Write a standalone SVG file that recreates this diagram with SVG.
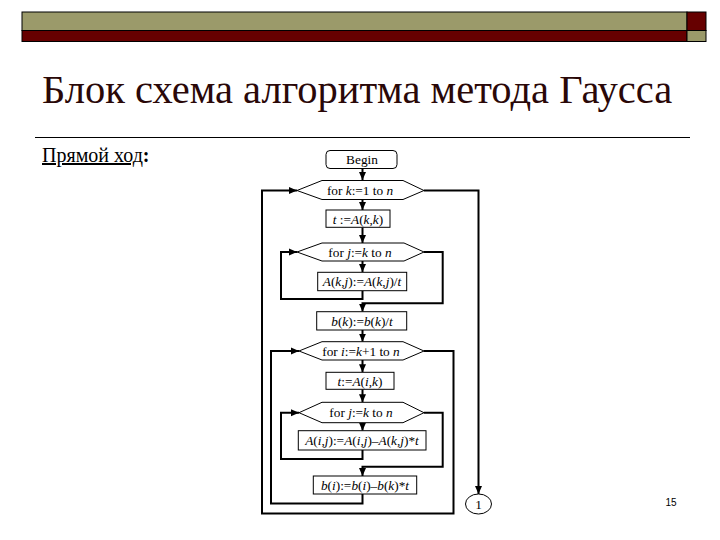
<svg xmlns="http://www.w3.org/2000/svg" width="720" height="540" viewBox="0 0 720 540">
<style>
.box{fill:#fff;stroke:#000;stroke-width:1}
.c{fill:none;stroke:#000;stroke-width:2;stroke-linejoin:miter}
.serif{font-family:'Liberation Serif','Times New Roman',Times,Tinos,'Noto Serif','DejaVu Serif',FreeSerif,serif}
.t{font-family:'Liberation Serif','Times New Roman',Times,Tinos,'Noto Serif','DejaVu Serif',FreeSerif,serif;font-size:13.3px;fill:#000;text-anchor:middle}
.i{font-style:italic}
</style>
<defs>
<marker id="ah" markerUnits="userSpaceOnUse" markerWidth="9" markerHeight="8" refX="8" refY="4" orient="auto">
<path d="M0,0.5 L8,4 L0,7.5 Z" fill="#000"/>
</marker>
</defs>
<rect width="720" height="540" fill="#fff"/>
<g id="topbar" stroke="#000" stroke-width="1">
<rect x="22" y="12" width="665" height="18.5" fill="#9b9a6a"/>
<rect x="687" y="12" width="19" height="18.5" fill="#660000"/>
<rect x="22" y="30.5" width="665" height="11" fill="#660000"/>
<rect x="687" y="30.5" width="19" height="11" fill="#9b9a6a"/>
</g>
<text id="title" class="serif" x="42" y="103" font-size="40.5" fill="#2a0808">Блок схема алгоритма метода Гаусса</text>
<line x1="35" y1="137.5" x2="690" y2="137.5" stroke="#000" stroke-width="1"/>
<text id="subtitle" class="serif" x="42" y="162" font-size="20" fill="#000"><tspan text-decoration="underline">Прямой ход</tspan><tspan font-weight="bold">:</tspan></text>
<g id="connectors">
<path class="c" d="M362.5,168.5 V180" marker-end="url(#ah)"/>
<path class="c" d="M362.5,199.5 V210" marker-end="url(#ah)"/>
<path class="c" d="M362.5,227.5 V243" marker-end="url(#ah)"/>
<path class="c" d="M362.5,261 V272" marker-end="url(#ah)"/>
<path class="c" d="M362.5,290.7 V299 H281 V252 H297" marker-end="url(#ah)"/>
<path class="c" d="M424,252 H442.7 V303.3 H362.5 V311.7" marker-end="url(#ah)"/>
<path class="c" d="M362.5,330 V341.7" marker-end="url(#ah)"/>
<path class="c" d="M362.5,360 V372.3" marker-end="url(#ah)"/>
<path class="c" d="M362.5,389.3 V402.3" marker-end="url(#ah)"/>
<path class="c" d="M362.5,422.7 V430.7" marker-end="url(#ah)"/>
<path class="c" d="M362.5,450 V459 H281 V412.7 H299" marker-end="url(#ah)"/>
<path class="c" d="M424,412.7 H442.7 V466.7 H362.5 V476" marker-end="url(#ah)"/>
<path class="c" d="M362.5,494 V503.5 H271 V351 H299" marker-end="url(#ah)"/>
<path class="c" d="M424,351 H453.5 V513.5 H262 V190.5 H297" marker-end="url(#ah)"/>
<path class="c" d="M424,190.5 H478.5 V494" marker-end="url(#ah)"/>
</g>
<g id="begin">
<rect class="box" x="326" y="150.5" width="71" height="18" rx="4"/>
<text class="t" x="362" y="164" font-size="12">Begin</text>
</g>
<g id="fork">
<polygon class="box" points="297,190.5 322,180.5 403,180.5 424,190.5 403,199.5 322,199.5"/>
<text class="t" x="360" y="195">for <tspan class="i">k</tspan>:=1 to <tspan class="i">n</tspan></text>
</g>
<g id="t1">
<rect class="box" x="326" y="210" width="64" height="17.3"/>
<text class="t" x="358" y="223.5"><tspan class="i">t</tspan> :=<tspan class="i">A</tspan>(<tspan class="i">k</tspan>,<tspan class="i">k</tspan>)</text>
</g>
<g id="forj1">
<polygon class="box" points="297,252 322,243 404,243 424,252 404,261 322,261"/>
<text class="t" x="360" y="256.8">for <tspan class="i">j</tspan>:=<tspan class="i">k</tspan> to <tspan class="i">n</tspan></text>
</g>
<g id="akj">
<rect class="box" x="317.7" y="272.3" width="89" height="18.4"/>
<text class="t" x="362" y="286.3"><tspan class="i">A</tspan>(<tspan class="i">k</tspan>,<tspan class="i">j</tspan>):=<tspan class="i">A</tspan>(<tspan class="i">k</tspan>,<tspan class="i">j</tspan>)/<tspan class="i">t</tspan></text>
</g>
<g id="bk">
<rect class="box" x="316.7" y="311.7" width="90" height="18.3"/>
<text class="t" x="362" y="325.8"><tspan class="i">b</tspan>(<tspan class="i">k</tspan>):=<tspan class="i">b</tspan>(<tspan class="i">k</tspan>)/<tspan class="i">t</tspan></text>
</g>
<g id="fori">
<polygon class="box" points="299,351 322,341.7 403,341.7 424,351 403,360 322,360"/>
<text class="t" x="361" y="355.5">for <tspan class="i">i</tspan>:=<tspan class="i">k</tspan>+1 to <tspan class="i">n</tspan></text>
</g>
<g id="t2">
<rect class="box" x="326" y="372.3" width="68" height="17"/>
<text class="t" x="360" y="385.5"><tspan class="i">t</tspan>:=<tspan class="i">A</tspan>(<tspan class="i">i</tspan>,<tspan class="i">k</tspan>)</text>
</g>
<g id="forj2">
<polygon class="box" points="299,412.7 322,402.3 403,402.3 424,412.7 403,422.7 322,422.7"/>
<text class="t" x="361" y="417.3">for <tspan class="i">j</tspan>:=<tspan class="i">k</tspan> to <tspan class="i">n</tspan></text>
</g>
<g id="aij">
<rect class="box" x="298.3" y="430.7" width="127.7" height="19.3"/>
<text class="t" x="362" y="445.3"><tspan class="i">A</tspan>(<tspan class="i">i</tspan>,<tspan class="i">j</tspan>):=<tspan class="i">A</tspan>(<tspan class="i">i</tspan>,<tspan class="i">j</tspan>)–<tspan class="i">A</tspan>(<tspan class="i">k</tspan>,<tspan class="i">j</tspan>)*<tspan class="i">t</tspan></text>
</g>
<g id="bi">
<rect class="box" x="313.3" y="476" width="103.4" height="18"/>
<text class="t" x="365" y="489.8"><tspan class="i">b</tspan>(<tspan class="i">i</tspan>):=<tspan class="i">b</tspan>(<tspan class="i">i</tspan>)–<tspan class="i">b</tspan>(<tspan class="i">k</tspan>)*<tspan class="i">t</tspan></text>
</g>
<g id="conn1">
<ellipse class="box" cx="478.5" cy="504" rx="13" ry="10"/>
<text class="t" x="478.5" y="508.5" font-size="12">1</text>
</g>
<text id="pagenum" x="671" y="505.5" font-family="'Liberation Sans',Arial,sans-serif" font-size="10" text-anchor="middle" fill="#000">15</text>
</svg>
